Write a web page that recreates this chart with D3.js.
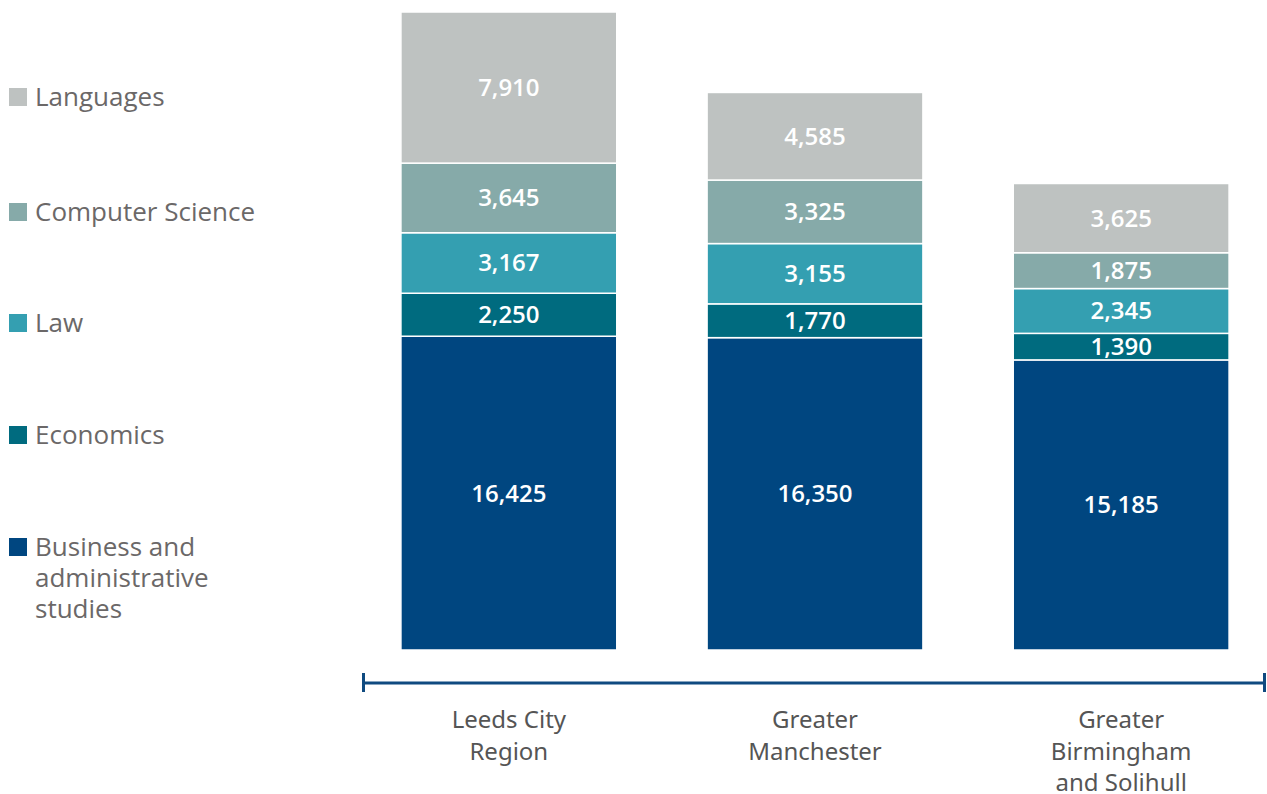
<!DOCTYPE html>
<html>
<head>
<meta charset="utf-8">
<script src="https://cdn.jsdelivr.net/npm/d3@7"></script>
<style>
  html, body { margin: 0; padding: 0; background: #fff; }
  svg { display: block; }
</style>
</head>
<body>
<svg id="chart" width="1267" height="794"></svg>
<script>
// Regions on the x axis (line breaks as drawn)
const regions = ["Leeds City Region", "Greater Manchester", "Greater Birmingham and Solihull"];
const regionLines = [["Leeds City", "Region"], ["Greater", "Manchester"], ["Greater", "Birmingham", "and Solihull"]];

// Subjects, stacked bottom to top
const subjects = ["Business and administrative studies", "Economics", "Law", "Computer Science", "Languages"];
const subjectLines = [["Business and", "administrative", "studies"], ["Economics"], ["Law"], ["Computer Science"], ["Languages"]];
const subjectColors = ["#004680", "#006b7f", "#349fb1", "#86aaa9", "#bec2c1"];

// Values per subject, one entry per region
const business = [16425, 16350, 15185];
const economics = [2250, 1770, 1390];
const law = [3167, 3155, 2345];
const computerScience = [3645, 3325, 1875];
const languages = [7910, 4585, 3625];

const series = [business, economics, law, computerScience, languages];

const rows = regions.map((r, i) => {
  const o = { region: r };
  subjects.forEach((s, j) => { o[s] = series[j][i]; });
  return o;
});

const stacked = d3.stack().keys(subjects)(rows);
const maxTotal = d3.max(rows, d => d3.sum(subjects, s => d[s]));

const svg = d3.select("#chart");

const x = d3.scaleBand().domain(regions).range([355, 1275]).paddingInner(0.295).paddingOuter(0.15);
const y = d3.scaleLinear().domain([0, maxTotal]).range([650, 12]);

const color = d3.scaleOrdinal().domain(subjects).range(subjectColors);
const fmt = d3.format(",");

// Stacked bars
const layers = svg.append("g").selectAll("g")
  .data(stacked).join("g")
  .attr("fill", d => color(d.key));

layers.selectAll("rect")
  .data(d => d.map(p => ({ p, key: d.key })))
  .join("rect")
  .attr("x", d => x(d.p.data.region))
  .attr("width", x.bandwidth())
  .attr("y", d => y(d.p[1]))
  .attr("height", d => y(d.p[0]) - y(d.p[1]))
  .attr("stroke", "#fff")
  .attr("stroke-width", 1.5);

// Value labels centred in each segment
layers.selectAll("text")
  .data(d => d.map(p => ({ p, key: d.key })))
  .join("text")
  .attr("x", d => x(d.p.data.region) + x.bandwidth() / 2)
  .attr("y", d => (y(d.p[0]) + y(d.p[1])) / 2)
  .attr("dy", "0.35em")
  .attr("text-anchor", "middle")
  .attr("fill", "#fff")
  .style("font-family", "'Open Sans', sans-serif")
  .style("font-size", "24px")
  .style("font-weight", 600)
  .text(d => fmt(d.p[1] - d.p[0]));

// Category axis: horizontal rule with end caps
const axisY = 683;
const axisColor = "#0f4a80";
const axisG = svg.append("g");
axisG.append("line").attr("x1", 362).attr("x2", 1266).attr("y1", axisY).attr("y2", axisY)
  .attr("stroke", axisColor).attr("stroke-width", 3);
[363.5, 1264.5].forEach(px => {
  axisG.append("line").attr("x1", px).attr("x2", px).attr("y1", axisY - 10).attr("y2", axisY + 9)
    .attr("stroke", axisColor).attr("stroke-width", 3);
});

// Axis labels
regions.forEach((r, i) => {
  const t = axisG.append("text")
    .attr("x", x(r) + x.bandwidth() / 2)
    .attr("y", 728)
    .attr("text-anchor", "middle")
    .attr("fill", "#555")
    .style("font-family", "'Noto Sans', sans-serif")
    .style("font-size", "24px");
  regionLines[i].forEach((ln, k) => {
    t.append("tspan").attr("x", x(r) + x.bandwidth() / 2).attr("dy", k === 0 ? 0 : 31.5).text(ln);
  });
});

// Legend, top to bottom
const legendY = [97, 212, 323, 435, 547];
const legend = svg.append("g");
subjects.slice().reverse().forEach((s, i) => {
  const idx = subjects.indexOf(s);
  const cy = legendY[i];
  legend.append("rect").attr("x", 9).attr("y", cy - 9).attr("width", 18).attr("height", 18)
    .attr("fill", color(s));
  const t = legend.append("text")
    .attr("x", 35).attr("y", cy)
    .attr("fill", "#6b6868")
    .style("font-family", "'Open Sans', sans-serif")
    .style("font-size", "26px");
  subjectLines[idx].forEach((ln, k) => {
    t.append("tspan").attr("x", 35).attr("dy", k === 0 ? "0.35em" : 31).text(ln);
  });
});
</script>
</body>
</html>
